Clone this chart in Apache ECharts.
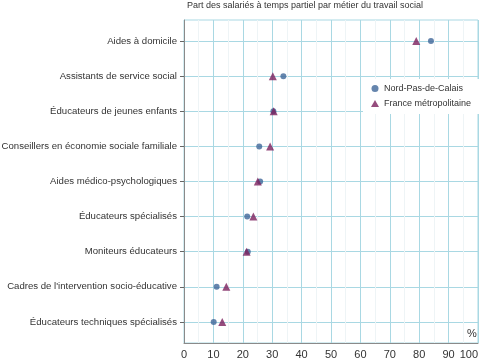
<!DOCTYPE html>
<html><head><meta charset="utf-8">
<script src="https://cdn.jsdelivr.net/npm/echarts@6/dist/echarts.min.js"></script>
<style>html,body{margin:0;padding:0;background:#fff}#c{width:480px;height:358px}</style>
</head><body><div id="c"></div>
<script>
const categories = [
  "Aides à domicile",
  "Assistants de service social",
  "Éducateurs de jeunes enfants",
  "Conseillers en économie sociale familiale",
  "Aides médico-psychologiques",
  "Éducateurs spécialisés",
  "Moniteurs éducateurs",
  "Cadres de l'intervention socio-éducative",
  "Éducateurs techniques spécialisés"
];
const nordPasDeCalais = [84, 33.8, 30.4, 25.6, 25.9, 21.5, 21.7, 11.1, 10.1];
const franceMetro = [79, 30.2, 30.5, 29.3, 25.1, 23.6, 21.3, 14.4, 13];
const xTicks = [0, 10, 20, 30, 40, 50, 60, 70, 80, 90, 100];

const catIdx = categories.map((_, i) => i);
const gridColor = '#a9d8e3';
const font = 'Liberation Sans, Arial, sans-serif';
const chart = echarts.init(document.getElementById('c'), null, {renderer: 'canvas'});
chart.setOption({
  animation: false,
  textStyle: {fontFamily: font},
  title: {
    text: 'Part des salariés à temps partiel par métier du travail social',
    left: 187, top: 1, padding: 0,
    textStyle: {fontSize: 9, fontWeight: 'normal', color: '#333'}
  },
  legend: {
    orient: 'vertical', left: 363, top: 79,
    backgroundColor: '#fff',
    padding: [5, 12, 6, 8],
    itemGap: 6, itemWidth: 8, itemHeight: 7,
    textStyle: {fontSize: 9, color: '#333'},
    data: [
      {name: 'Nord-Pas-de-Calais', icon: 'circle'},
      {name: 'France métropolitaine', icon: 'triangle'}
    ]
  },
  grid: {left: 184, right: 2, top: 20, bottom: 15, show: true, borderColor: gridColor, borderWidth: 1,
    containLabel: false, outerBoundsMode: 'none'},
  xAxis: {
    type: 'value', min: 0, max: 100, interval: 10,
    axisLine: {show: true, onZero: false, lineStyle: {color: '#8a8a8a'}},
    axisTick: {show: false},
    axisLabel: {fontSize: 11, color: '#333', margin: 6, alignMaxLabel: 'right',
      customValues: xTicks},
    splitLine: {show: true, lineStyle: {color: gridColor, width: 1}},
    minorTick: {show: false, splitNumber: 2},
    minorSplitLine: {show: true, lineStyle: {color: '#eef4f6', width: 1}}
  },
  yAxis: {
    type: 'value', inverse: true, min: -0.6, max: 8.6,
    axisLine: {show: true, lineStyle: {color: '#8a8a8a'}},
    axisTick: {show: true, length: 4, customValues: catIdx, lineStyle: {color: '#666'}},
    axisLabel: {show: true, customValues: catIdx, fontSize: 9.6, color: '#333', margin: 7,
      formatter: v => categories[Math.round(v)] || ''},
    splitLine: {show: true, lineStyle: {color: gridColor, width: 1}}
  },
  graphic: [{type: 'text', left: 467, top: 328, style: {text: '%', fontSize: 11, fill: '#333', fontFamily: font}}],
  series: [
    {name: 'Nord-Pas-de-Calais', type: 'scatter', symbol: 'circle', symbolSize: 6,
      itemStyle: {color: '#3f6699'},
      data: nordPasDeCalais.map((v, i) => [v, i])},
    {name: 'France métropolitaine', type: 'scatter', symbol: 'triangle', symbolSize: 8,
      itemStyle: {color: '#7b1f5c'},
      data: franceMetro.map((v, i) => [v, i])}
  ]
});
</script></body></html>
